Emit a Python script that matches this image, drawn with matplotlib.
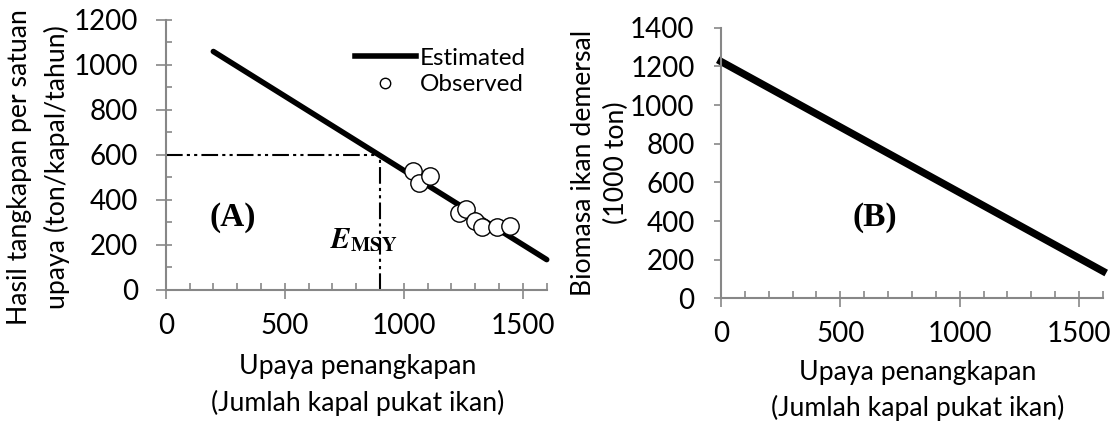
import matplotlib
matplotlib.use('Agg')
import matplotlib.pyplot as plt
from matplotlib.lines import Line2D
from matplotlib.ticker import MultipleLocator

# data
# (A) catch per unit effort vs fishing effort
est_effort = [200, 1600]
est_cpue = [1060, 135]
obs_effort = [1037, 1064, 1109, 1232, 1263, 1298, 1330, 1391, 1446]
obs_cpue = [530, 477, 507, 344, 361, 308, 279, 279, 286]
e_msy = 900
cpue_msy = 600

# (B) demersal fish biomass vs fishing effort
bio_effort = [0, 1600]
bio_biomass = [1225, 140]

plt.rcParams['font.family'] = ['Lato', 'DejaVu Sans']
plt.rcParams['mathtext.fontset'] = 'stix'

gray = '#878787'
tick_fs = 20
label_fs = 19.2

fig = plt.figure(figsize=(11.13, 4.21), dpi=100)
ax1 = fig.add_axes([0.1489, 0.3112, 0.3423, 0.6413])
ax2 = fig.add_axes([0.6478, 0.2914, 0.3432, 0.6428])


def style_axis(ax, ymax, y_minor):
    for s in ['top', 'right']:
        ax.spines[s].set_visible(False)
    for s in ['left', 'bottom']:
        ax.spines[s].set_color(gray)
        ax.spines[s].set_linewidth(1.5)
    ax.set_xlim(0, 1600)
    ax.set_ylim(0, ymax)
    ax.xaxis.set_major_locator(MultipleLocator(500))
    ax.xaxis.set_minor_locator(MultipleLocator(100))
    ax.xaxis.remove_overlapping_locs = False
    ax.yaxis.set_major_locator(MultipleLocator(200))
    ax.tick_params(axis='x', which='major', direction='out', length=6.5,
                   width=1.2, color=gray, labelsize=tick_fs, pad=10)
    ax.tick_params(axis='x', which='minor', direction='in', length=4.8,
                   width=1.2, color=gray)
    if y_minor:
        ax.yaxis.set_minor_locator(MultipleLocator(100))
        ax.yaxis.remove_overlapping_locs = False
        ax.tick_params(axis='y', which='major', direction='out', length=7,
                       width=1.2, color=gray, labelsize=tick_fs, pad=13)
        ax.tick_params(axis='y', which='minor', direction='in', length=4.3,
                       width=1.2, color=gray)
    else:
        ax.tick_params(axis='y', which='major', direction='out', length=5,
                       width=1.2, color=gray, labelsize=tick_fs, pad=14)


# panel A
style_axis(ax1, 1200, True)
ax1.plot([0, e_msy], [cpue_msy, cpue_msy], color='black', lw=1.5,
         linestyle=(0, (8, 2, 1.5, 2, 1.5, 2)))
ax1.plot([e_msy, e_msy], [0, cpue_msy], color='black', lw=1.5,
         linestyle=(0, (8, 2, 1.5, 2, 1.5, 2)))
ax1.plot(est_effort, est_cpue, color='black', lw=4, solid_capstyle='round',
         clip_on=False)
ax1.plot(obs_effort, obs_cpue, 'o', ms=12.5, mfc='white', mec='black',
         mew=1, clip_on=False)
ax1.text(281, 322, '(A)', fontsize=24, fontweight='bold',
         family='Liberation Serif', ha='center', va='center')
ax1.text(688, 187, r'$\mathbfit{E}_{\mathbf{MSY}}$', fontsize=21,
         ha='left', va='baseline')
handles = [Line2D([], [], color='black', lw=4),
           Line2D([], [], ls='none', marker='o', ms=7.5, mfc='white',
                  mec='black', mew=1)]
ax1.legend(handles, ['Estimated', 'Observed'], loc='upper left',
           bbox_to_anchor=(0.497, 0.897), frameon=False, fontsize=17.5,
           handlelength=2.5, handletextpad=0.15, labelspacing=0.23,
           borderpad=0, borderaxespad=0)
ax1.set_xlabel('Upaya penangkapan\n(Jumlah kapal pukat ikan)',
               fontsize=label_fs, linespacing=1.5, va='center')
ax1.xaxis.set_label_coords(0.505, -0.352)
ax1.set_ylabel('Hasil tangkapan per satuan\nupaya (ton/kapal/tahun)',
               fontsize=label_fs, linespacing=1.54, va='center')
ax1.yaxis.set_label_coords(-0.334, 0.456)

# panel B
style_axis(ax2, 1400, False)
ax2.plot(bio_effort, bio_biomass, color='black', lw=5.3, clip_on=False)
ax2.text(645, 418, '(B)', fontsize=24, fontweight='bold',
         family='Liberation Serif', ha='center', va='center')
ax2.set_xlabel('Upaya penangkapan\n(Jumlah kapal pukat ikan)',
               fontsize=label_fs, linespacing=1.46, va='center')
ax2.xaxis.set_label_coords(0.516, -0.341)
ax2.set_ylabel('Biomasa ikan demersal\n(1000 ton)', fontsize=label_fs,
               linespacing=1.41, va='center')
ax2.yaxis.set_label_coords(-0.317, 0.5)

fig.savefig('out.png', dpi=100)
